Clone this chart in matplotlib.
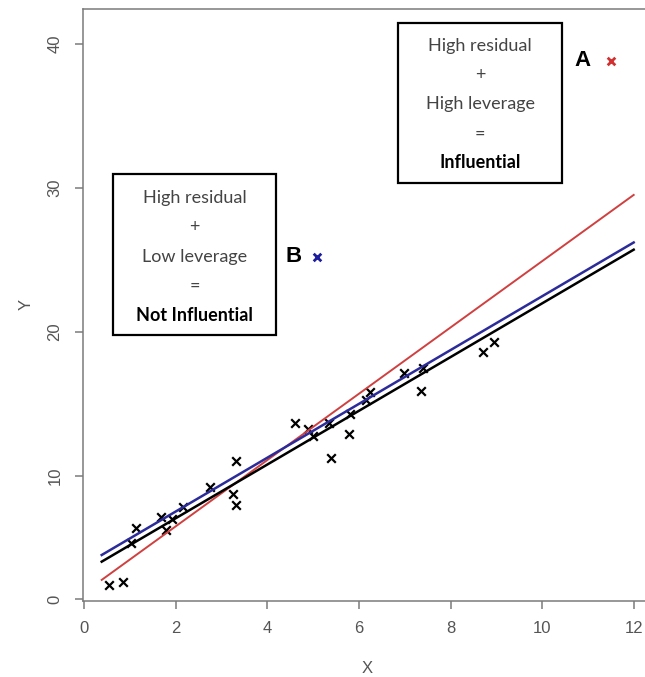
import matplotlib.pyplot as plt
import numpy as np
from matplotlib.patches import Rectangle

# --- data ---
x_pts = [0.55, 0.84, 1.01, 1.14, 1.67, 1.91, 1.79, 2.16, 2.75, 3.31, 3.24, 3.31,
         4.61, 4.89, 5.00, 5.35, 5.38, 5.79, 5.81, 6.15, 6.23, 6.98, 7.39, 7.36,
         8.70, 8.95]
y_pts = [1.16, 1.43, 4.59, 5.81, 6.70, 6.49, 5.62, 7.46, 9.08, 11.06, 8.54, 7.65,
         13.70, 13.24, 12.78, 13.68, 11.23, 12.94, 14.32, 15.27, 15.83, 17.13, 17.48,
         15.86, 18.63, 19.32]

point_a = (11.5, 38.8)
point_b = (5.08, 25.2)

# fitted lines: x range and y at both ends
fit_x = [0.38, 12.0]
fit_all = [1.57, 29.5]      # red: with A
fit_base = [3.05, 25.7]     # black: without outliers
fit_b = [3.59, 26.2]        # blue: with B

x_ticks = [0, 2, 4, 6, 8, 10, 12]
y_ticks = [0, 10, 20, 30, 40]

box_b_lines = ["High residual", "+", "Low leverage", "=", "Not Influential"]
box_a_lines = ["High residual", "+", "High leverage", "=", "Influential"]

# the source image has its lowest band (0-10) squeezed; mimic with a piecewise scale
K = 12.33 / 14.41


def fwd(y):
    y = np.asarray(y, dtype=float)
    return np.where(y < 10, y * K, 10 * K + (y - 10))


def inv(v):
    v = np.asarray(v, dtype=float)
    return np.where(v < 10 * K, v / K, 10 + (v - 10 * K))


W, H = 645, 677
fig = plt.figure(figsize=(W / 100, H / 100), dpi=100)
ax = fig.add_axes([83.3 / W, 1 - 600.5 / H, (652 - 83.3) / W, (600.5 - 9) / H])
ax.set_yscale("function", functions=(fwd, inv))

grey = "#7a7a7a"
for s in ax.spines.values():
    s.set_color(grey)
    s.set_linewidth(1.1)

ax.scatter(x_pts, y_pts, marker="x", color="black", s=38, linewidths=1.6, zorder=3)
ax.plot(fit_x, fit_all, color="#d04040", lw=1.4, zorder=4)
ax.plot(fit_x, fit_base, color="black", lw=1.8, zorder=4)
ax.plot(fit_x, fit_b, color="#2b2b9a", lw=1.8, zorder=5)

ax.scatter(*point_a, marker="x", color="#d03030", s=30, linewidths=2.0, zorder=3)
ax.scatter(*point_b, marker="x", color="#1c1c9c", s=30, linewidths=2.0, zorder=3)
ax.text(point_a[0] - 0.62, point_a[1], "A", fontsize=16, fontweight="bold",
        family="Liberation Sans", ha="center", va="center")
ax.text(point_b[0] - 0.5, point_b[1], "B", fontsize=16, fontweight="bold",
        family="Liberation Sans", ha="center", va="center")


def text_box(x0, x1, y_bot, y_top, lines, y_first, step):
    ax.add_patch(Rectangle((x0, y_bot), x1 - x0, y_top - y_bot, fill=False,
                           edgecolor="black", lw=1.6, zorder=6))
    xc = (x0 + x1) / 2
    for i, line in enumerate(lines):
        bold = i == len(lines) - 1
        ax.text(xc, y_first - i * step, line, ha="center", va="center",
                fontsize=13, family="Lato",
                fontweight="bold" if bold else "normal",
                color="black" if bold else "#444444", zorder=7)


text_box(0.63, 4.18, 19.78, 30.96, box_b_lines, 29.27, 2.03)
text_box(6.86, 10.43, 30.31, 41.42, box_a_lines, 39.84, 2.03)

ax.set_xlim(-0.022, 12.40)
ax.set_ylim(-0.1, 42.4)
ax.set_xticks(x_ticks)
ax.set_yticks(y_ticks)
ax.tick_params(color=grey, length=6, width=1.1, labelcolor="#555555",
               labelsize=12, pad=9)
for lab in ax.get_yticklabels():
    lab.set_rotation(90)
    lab.set_va("center")
for lab in ax.get_xticklabels() + ax.get_yticklabels():
    lab.set_family("Liberation Sans")

ax.set_xlabel("X", fontsize=12, color="#555555", family="Liberation Sans", labelpad=18)
ax.set_ylabel("Y", fontsize=12, color="#555555", family="Liberation Sans", labelpad=10)

fig.savefig("out.png", dpi=100)
